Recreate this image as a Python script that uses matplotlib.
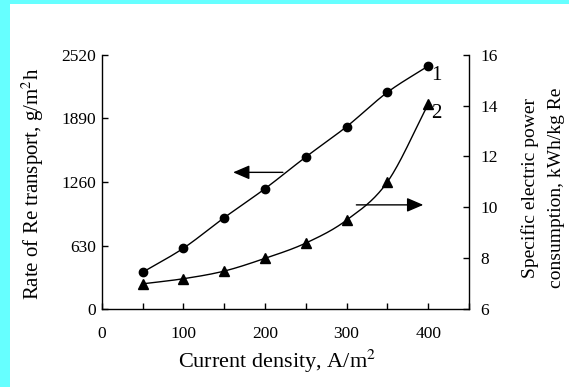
import numpy as np
import matplotlib
matplotlib.use("Agg")
import matplotlib.pyplot as plt
from matplotlib.patches import Rectangle

# ---- data ----
current_density = [50, 100, 150, 200, 250, 300, 350, 400]
re_transport = [366, 604, 906, 1193, 1507, 1807, 2147, 2407]       # g/m2h (left axis)
power_consumption = [7.0, 7.2, 7.5, 8.0, 8.6, 9.5, 11.0, 14.05]    # kWh/kg Re (right axis)

x_ticks = [0, 100, 200, 300, 400]
left_ticks = [0, 630, 1260, 1890, 2520]
right_ticks = [6, 8, 10, 12, 14, 16]

plt.rcParams['font.family'] = ['Liberation Serif', 'DejaVu Serif']
plt.rcParams['mathtext.fontset'] = 'stix'


def catmull_rom(x, y, n=30):
    x = np.asarray(x, float)
    y = np.asarray(y, float)
    px = np.concatenate([[2 * x[0] - x[1]], x, [2 * x[-1] - x[-2]]])
    py = np.concatenate([[2 * y[0] - y[1]], y, [2 * y[-1] - y[-2]]])
    xs, ys = [], []
    t = np.linspace(0, 1, n)
    for i in range(1, len(px) - 2):
        for P, out in ((px, xs), (py, ys)):
            p0, p1, p2, p3 = P[i - 1], P[i], P[i + 1], P[i + 2]
            out.extend(0.5 * ((2 * p1) + (-p0 + p2) * t +
                              (2 * p0 - 5 * p1 + 4 * p2 - p3) * t ** 2 +
                              (-p0 + 3 * p1 - 3 * p2 + p3) * t ** 3))
    return np.array(xs), np.array(ys)


W, H = 569, 387
fig = plt.figure(figsize=(W / 100, H / 100), dpi=100)
fig.patch.set_facecolor('#66FFFF')
fig.patches.append(Rectangle((10 / W, 0), 1, 1 - 4 / H, transform=fig.transFigure,
                             facecolor='white', edgecolor='none', zorder=-10))

ax = fig.add_axes([101.7 / W, 77.7 / H, (469 - 101.7) / W, 254.7 / H])
ax.set_facecolor('none')
ax2 = ax.twinx()

# curve 1 (left axis)
sx, sy = catmull_rom(current_density, re_transport)
ax.plot(sx, sy, color='black', lw=1.0)
ax.plot(current_density, re_transport, 'o', color='black', markersize=6)

# curve 2 (right axis)
sx2, sy2 = catmull_rom(current_density, power_consumption)
ax2.plot(sx2, sy2, color='black', lw=1.0)
ax2.plot(current_density, power_consumption, '^', color='black', markersize=7)

ax.set_xlim(0, 450)
ax.set_ylim(0, 2520)
ax2.set_ylim(6, 16)

ax.set_xticks(np.arange(0, 451, 50))
ax.set_xticklabels([str(v) if v in x_ticks else '' for v in np.arange(0, 451, 50)])
ax.set_yticks(left_ticks)
ax2.set_yticks(right_ticks)

for a in (ax, ax2):
    a.spines['top'].set_visible(False)
    for s in a.spines.values():
        s.set_linewidth(1.0)
ax.spines['right'].set_visible(False)
ax2.spines['left'].set_visible(False)
ax2.spines['bottom'].set_visible(False)

ax.tick_params(axis='x', direction='in', length=4, width=1, labelsize=12.5, pad=12)
ax.tick_params(axis='y', direction='in', length=4, width=1, labelsize=12.5, pad=4)
ax2.tick_params(axis='y', direction='in', length=4, width=1, labelsize=12.5, pad=8)

fig.text(277 / W, 1 - 368 / H, 'Current density, A/m$^2$', fontsize=16,
         ha='center', va='baseline')
fig.text(33 / W, 1 - 184 / H, 'Rate of Re transport, g/m$^2$h', fontsize=15,
         rotation=90, ha='center', va='center')
fig.text(543 / W, 1 - 188 / H, 'Specific electric power\nconsumption, kWh/kg Re',
         rotation=90, ha='center', va='center', multialignment='center',
         fontsize=14, linespacing=1.7)

# arrows
astyle = dict(arrowstyle='-|>,head_length=1.0,head_width=0.43', mutation_scale=10,
              color='black', lw=1.0, shrinkA=0, shrinkB=0)
ax.annotate('', xy=(161, 1355), xytext=(222, 1355), arrowprops=astyle)
ax2.annotate('', xy=(394, 10.1), xytext=(312, 10.1), arrowprops=astyle)

# curve labels
ax.text(404, 2407, '1', fontsize=15, ha='left', va='top')
ax2.text(404, 14.05, '2', fontsize=15, ha='left', va='top')

fig.savefig('out.png', dpi=100, facecolor=fig.get_facecolor())
